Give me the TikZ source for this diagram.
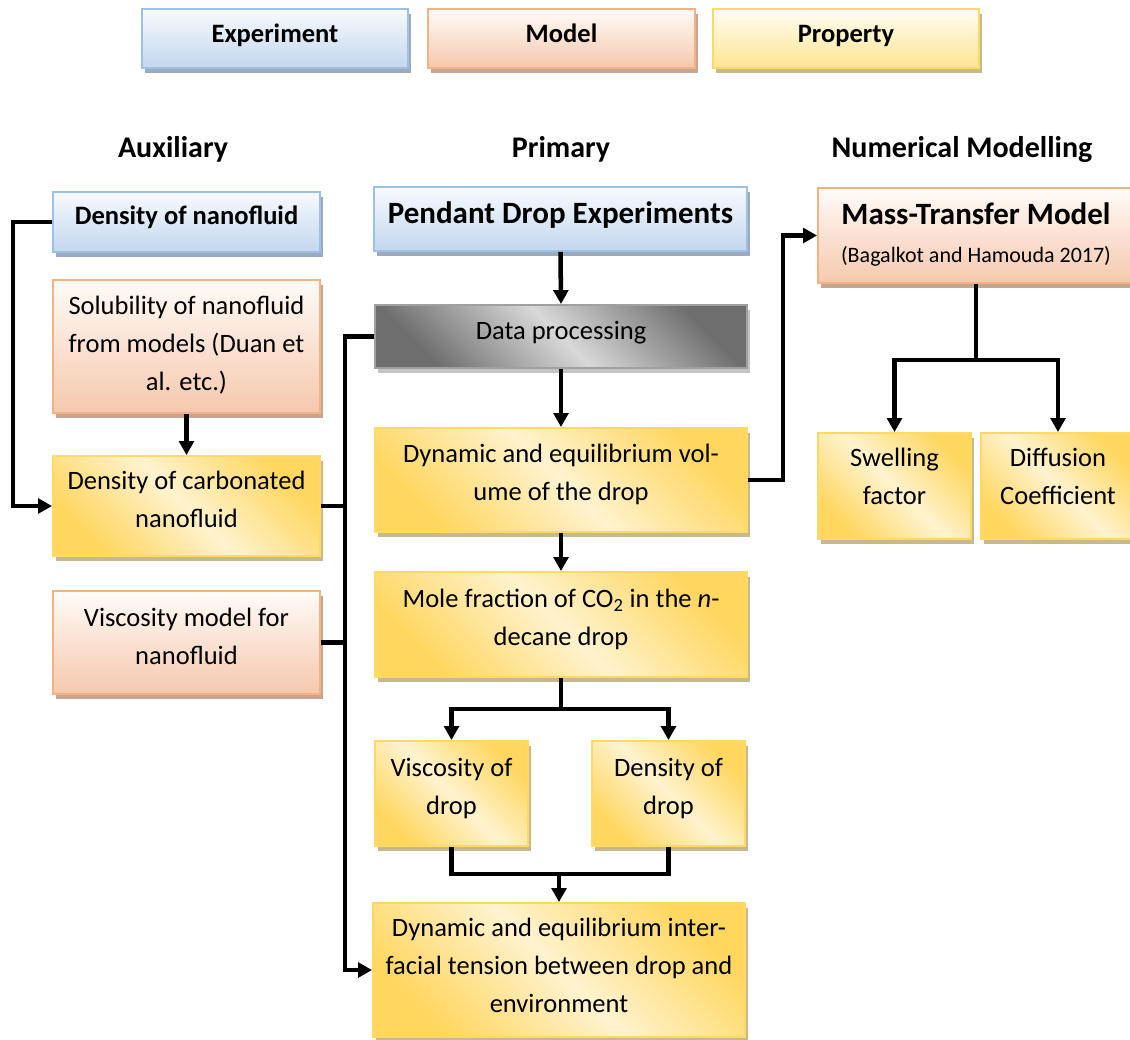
\documentclass[tikz,border=0pt]{standalone}
\usepackage{fontspec}
\setmainfont{Carlito}
\usetikzlibrary{arrows.meta,shadows}

% fill, border and shadow colours of the three box kinds
\definecolor{exptop}{HTML}{F7FAFD}
\definecolor{expbot}{HTML}{C3D7EF}
\definecolor{expline}{HTML}{9DC0E6}
\definecolor{expshadow}{HTML}{9DAABB}
\definecolor{modtop}{HTML}{FFFBF8}
\definecolor{modbot}{HTML}{F6C8AD}
\definecolor{modline}{HTML}{F4B183}
\definecolor{modshadow}{HTML}{C4A693}
\definecolor{protop}{HTML}{FFFDF3}
\definecolor{probot}{HTML}{FFE491}
\definecolor{proline}{HTML}{FFD966}
\definecolor{proshadow}{HTML}{C7B98C}
\definecolor{gold}{HTML}{FFD65E}
\definecolor{lightgold}{HTML}{FFF3CF}
\definecolor{graydark}{HTML}{6E6E6E}
\definecolor{graylight}{HTML}{D8D8D8}
\definecolor{grayline}{HTML}{A0A0A0}
\definecolor{grayshadow}{HTML}{C4C4C4}

% box text: centred lines, sitting a little above the box centre
\newcommand\bt[2][7.5pt]{%
  \raisebox{0pt}[\height][\dimexpr\depth+#1\relax]{%
    \begin{tabular}{@{}c@{}}#2\end{tabular}}}

\begin{document}
\begin{tikzpicture}[x=0.75pt,y=-0.75pt,
  box/.style={rectangle, inner sep=0pt, line width=1.4pt,
    font=\fontsize{19.9}{28.5}\selectfont},
  expbox/.style={box, draw=expline, top color=exptop, bottom color=expbot,
    drop shadow={shadow xshift=2.5pt, shadow yshift=-4pt, fill=expshadow, opacity=1}},
  modbox/.style={box, draw=modline, top color=modtop, bottom color=modbot,
    drop shadow={shadow xshift=2.5pt, shadow yshift=-4pt, fill=modshadow, opacity=1}},
  keybox/.style={box, draw=proline, top color=protop, bottom color=probot,
    drop shadow={shadow xshift=2.5pt, shadow yshift=-4pt, fill=proshadow, opacity=1}},
  probox/.style={box, draw=proline, top color=gold, bottom color=gold,
    middle color=lightgold, shading angle=-45,
    drop shadow={shadow xshift=2.5pt, shadow yshift=-4pt, fill=proshadow, opacity=1}},
  procbox/.style={box, draw=grayline, top color=graydark, bottom color=graydark,
    middle color=graylight, shading angle=-45,
    drop shadow={shadow xshift=2.5pt, shadow yshift=-4pt, fill=grayshadow, opacity=1}},
  head/.style={anchor=base, inner sep=0pt, font=\bfseries\fontsize{22.5}{27}\selectfont},
  big/.style={font=\bfseries\fontsize{23.25}{28}\selectfont},
  link/.style={line width=3.4pt, black},
  arr/.style={link, -{Triangle[length=10.5pt,width=11pt]}},
]
\useasboundingbox (0,0) rectangle (1130,1039);

% legend
\node[expbox, minimum width=199.5pt, minimum height=44.25pt] (kexp) at (275,38.5) {\bt[5pt]{\bfseries Experiment}};
\node[modbox, minimum width=200.25pt, minimum height=44.25pt] (kmod) at (561.5,38.5) {\bt[5pt]{\bfseries Model}};
\node[keybox, minimum width=199.5pt, minimum height=44.25pt] (kpro) at (846,38.5) {\bt[5pt]{\bfseries Property}};

% column headings
\node[head] (haux) at (173,157) {Auxiliary};
\node[head] (hpri) at (561,157) {Primary};
\node[head] (hnum) at (962,157) {Numerical Modelling};

% auxiliary column
\node[expbox, minimum width=200.25pt, minimum height=45pt] (dn) at (186.5,222) {\bt{\bfseries Density of nanofluid}};
\node[modbox, minimum width=200.25pt, minimum height=99.75pt] (sol) at (186.5,346.5)
  {\bt[3pt]{Solubility of nanofluid\\from models (Duan et\\al. etc.)}};
\node[probox, minimum width=200.25pt, minimum height=75pt] (dcn) at (186.5,506)
  {\bt{Density of carbonated\\nanofluid}};
\node[modbox, minimum width=200.25pt, minimum height=77.25pt] (vm) at (186.5,642.5)
  {\bt{Viscosity model for\\nanofluid}};

% primary column
\node[expbox, big, minimum width=279.75pt, minimum height=48pt] (pde) at (560.5,219) {\bt[4pt]{Pendant Drop Experiments}};
\node[procbox, minimum width=279pt, minimum height=47.25pt] (dp) at (561,336.5) {\bt{Data processing}};
\node[probox, minimum width=279pt, minimum height=78pt] (vol) at (561,480)
  {\bt[9pt]{Dynamic and equilibrium vol-\\ume of the drop}};
\node[probox, minimum width=279pt, minimum height=78.75pt] (mole) at (561,624.5)
  {\bt[9pt]{Mole fraction of CO\textsubscript{2} in the \textit{n}-\\decane drop}};
\node[probox, minimum width=114.75pt, minimum height=78.75pt] (vis) at (451.5,793.5)
  {\bt[9pt]{Viscosity of\\drop}};
\node[probox, minimum width=114.75pt, minimum height=78.75pt] (den) at (668.5,793.5)
  {\bt[9pt]{Density of\\drop}};
\node[probox, minimum width=279pt, minimum height=100.5pt] (ift) at (559,970)
  {\bt[4.5pt]{Dynamic and equilibrium inter-\\facial tension between drop and\\environment}};

% numerical modelling column
\node[modbox, minimum width=237pt, minimum height=71.25pt] (mtm) at (976,235.5)
  {\bt[0pt]{{\bfseries\fontsize{23.25}{28}\selectfont Mass-Transfer Model}\\
   {\fontsize{16.5}{20}\selectfont (Bagalkot and Hamouda 2017)}}};
\node[probox, minimum width=114.75pt, minimum height=79.5pt] (swell) at (894.5,486)
  {\bt[12pt]{Swelling\\factor}};
\node[probox, minimum width=115.5pt, minimum height=79.5pt] (diff) at (1058,486)
  {\bt[12pt]{Diffusion\\Coefficient}};

% routing points
\coordinate (lbusT) at (13,222);
\coordinate (lbusB) at (13,506);
\coordinate (busT) at (345,336.5);
\coordinate (busB) at (345,970);
\coordinate (volR) at (783,480);
\coordinate (volU) at (783,235.5);
\coordinate (mtmJ) at (976,360);
\coordinate (mtmL) at (894.5,360);
\coordinate (mtmR) at (1058,360);
\coordinate (moleJ) at (561,709);
\coordinate (moleL) at (451.5,709);
\coordinate (moleR) at (668.5,709);
\coordinate (dropL) at (451.5,874);
\coordinate (dropR) at (668.5,874);
\coordinate (dropJ) at (559,874);

% connectors
\draw[arr] (dn.west) -- (lbusT) -- (lbusB) -- (dcn.west);
\draw[arr] (sol.south) -- (dcn.north);
\draw[arr] (pde.south) -- (dp.north);
\draw[arr] (dp.west) -- (busT) -- (busB) -- (ift.west);
\draw[link] (dcn.east) -- (dcn.east -| busT);
\draw[link] (vm.east) -- (vm.east -| busT);
\draw[arr] (dp.south) -- (vol.north);
\draw[arr] (vol.south) -- (mole.north);
\draw[arr] (vol.east) -- (volR) -- (volU) -- (mtm.west);
\draw[link] (mtm.south) -- (mtmJ);
\draw[arr] (mtmJ) -- (mtmL) -- (swell.north);
\draw[arr] (mtmJ) -- (mtmR) -- (diff.north);
\draw[link] (mole.south) -- (moleJ);
\draw[arr] (moleJ) -- (moleL) -- (vis.north);
\draw[arr] (moleJ) -- (moleR) -- (den.north);
\draw[link] (vis.south) -- (dropL) -- (dropR) -- (den.south);
\draw[arr] (dropJ) -- (ift.north);
\end{tikzpicture}
\end{document}
